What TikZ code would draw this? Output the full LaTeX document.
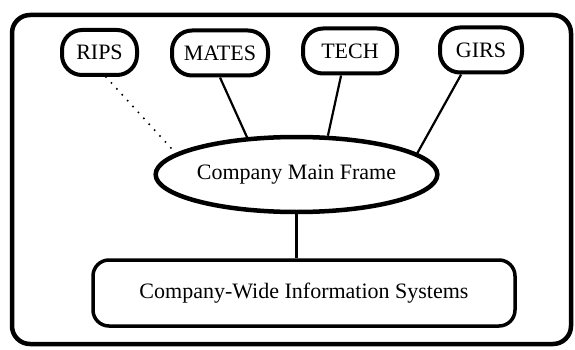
\documentclass[tikz,border=0pt]{standalone}
\usepackage{fontspec}
\setmainfont{Liberation Serif}
\usetikzlibrary{shapes.geometric}

\begin{document}
\begin{tikzpicture}[x=1pt, y=-1pt,
    sysbox/.style={draw=black, line width=4pt, rounded corners=20pt, minimum height=45pt, inner sep=0pt, font=\fontsize{22}{26}\selectfont},
    link/.style={draw=black, line width=2.2pt}]
    \useasboundingbox (0,0) rectangle (575,350);
    \draw[draw=black, line width=4.5pt, rounded corners=18pt] (12,15) rectangle (571,344);
    \node[sysbox, minimum width=75pt] at (99.5,52.5) (RIPS) {RIPS};
    \node[sysbox, minimum width=96pt] at (220,53) (MATES) {MATES};
    \node[sysbox, minimum width=94pt] at (350,51) (TECH) {TECH};
    \node[sysbox, minimum width=82pt] at (481,50) (GIRS) {GIRS};
    \node[ellipse, draw=black, line width=4.5pt, minimum width=247pt, minimum height=75pt, inner sep=0pt, font=\fontsize{22}{26}\selectfont] at (296.5,174.5) (MF) {Company Main Frame};
    \node[draw=black, line width=3.5pt, rounded corners=16pt, minimum width=422pt, minimum height=66pt, font=\fontsize{22}{26}\selectfont] at (304,293) (CWIS) {Company-Wide Information Systems};
    \draw[link, dash pattern=on 0pt off 8pt, line cap=round, shorten >=3pt] (RIPS.285) -- (MF.170);
    \draw[link] (MATES.south) -- (MF.143);
    \draw[link] (TECH.250) -- (MF.51);
    \draw[link] (GIRS.231) -- (MF.10);
    \draw[link] (MF.south) -- (MF.south |- CWIS.north);
\end{tikzpicture}
\end{document}
